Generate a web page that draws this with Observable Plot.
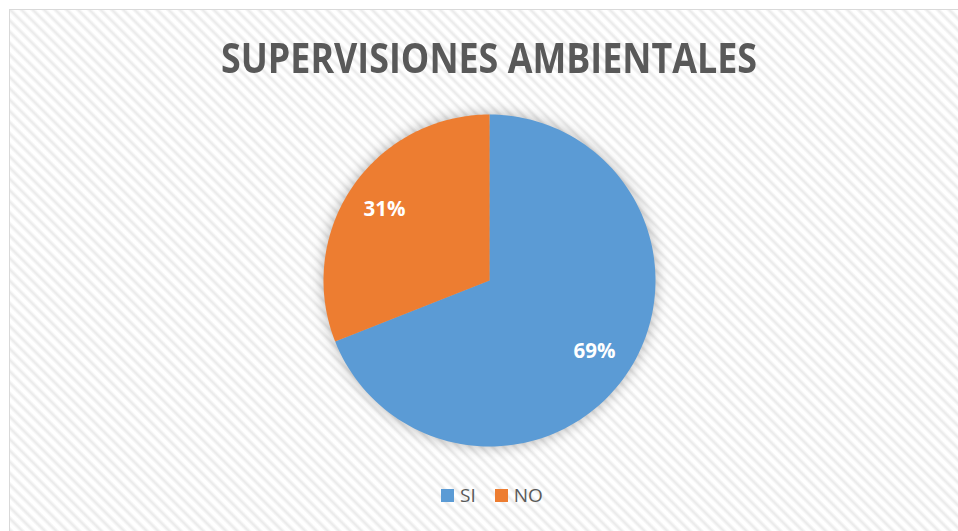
<!DOCTYPE html>
<html><head><meta charset="utf-8">
<script src="https://cdn.jsdelivr.net/npm/d3@7"></script>
<script src="https://cdn.jsdelivr.net/npm/@observablehq/plot@0.6"></script>
<style>
html,body{margin:0;padding:0;background:#fff;}
#chart{position:relative;width:958px;height:531px;overflow:hidden;font-family:"Open Sans",sans-serif;}
#frame{position:absolute;left:9px;top:9px;width:980px;height:560px;border-left:1px solid #d9d9d9;border-top:1px solid #d9d9d9;
  background:repeating-linear-gradient(45deg,#ffffff 0px,#ffffff 1.5px,#ebebeb 4px,#ebebeb 4.5px,#ffffff 7px,#ffffff 8px);}
#title{position:absolute;left:0;top:36px;width:978px;text-align:center;font-weight:700;font-size:42px;line-height:42px;color:#595959;white-space:nowrap;}
#title span{display:inline-block;transform-origin:center;}
#plot{position:absolute;left:0;top:0;}
#legend{position:absolute;top:483px;}
#legend *{font-family:"Open Sans",sans-serif !important;font-size:19px !important;color:#595959 !important;}
#legend > div{margin:0 !important;min-height:0 !important;display:flex !important;align-items:center;}
#legend span{display:inline-flex !important;align-items:center !important;margin-right:19px !important;line-height:24px;}
#legend svg{width:13px !important;height:13px !important;margin-right:6px !important;}
</style>
</head><body>
<div id="chart">
  <div id="frame"></div>
  <div id="title"><span>SUPERVISIONES AMBIENTALES</span></div>
  <div id="plot"></div>
  <div id="legend"></div>
</div>
<script>
const categories = ["SI", "NO"];
const values = [69, 31];
const labels = ["69%", "31%"];
const colors = ["#5B9BD5", "#ED7D31"];

const W = 958, H = 531, cx = 489, cy = 280, R = 166;

const pie = d3.pie().sort(null).value(d => d.value)(categories.map((c, i) => ({cat: c, value: values[i], label: labels[i]})));

// slice outlines from pie angles (clockwise from 12 o'clock)
const pts = [];
for (const s of pie) {
  const n = 120;
  pts.push({cat: s.data.cat, x: 0, y: 0});
  for (let k = 0; k <= n; k++) {
    const t = s.startAngle + (s.endAngle - s.startAngle) * k / n;
    pts.push({cat: s.data.cat, x: Math.sin(t), y: Math.cos(t)});
  }
}
const lab = pie.map(s => {
  const m = (s.startAngle + s.endAngle) / 2, r = 0.765;
  return {cat: s.data.cat, label: s.data.label, x: r * Math.sin(m), y: r * Math.cos(m)};
});

const plot = Plot.plot({
  width: W, height: H,
  margin: 0,
  style: {background: "transparent", overflow: "visible"},
  x: {domain: [-cx / R, (W - cx) / R], axis: null},
  y: {domain: [-(H - cy) / R, cy / R], axis: null},
  color: {domain: categories, range: colors},
  marks: [
    Plot.line(pts, {x: "x", y: "y", z: "cat", fill: "cat", stroke: null, curve: "linear"}),
    Plot.text(lab, {x: "x", y: "y", text: "label", fill: "white", fontSize: 20.5, fontWeight: 700, fontFamily: "Open Sans"})
  ]
});
document.getElementById("plot").appendChild(plot);
const pieG = plot.querySelector('g[aria-label="line"]');
if (pieG) pieG.style.filter = "drop-shadow(0 0 7px rgba(0,0,0,0.3))";

const leg = Plot.legend({color: {domain: categories, range: colors}, legend: "swatches", swatchSize: 13});
document.getElementById("legend").appendChild(leg);

// fit title width to reference
const ts = document.querySelector("#title span");
const tw = ts.getBoundingClientRect().width;
ts.style.transform = `scaleX(${536 / tw})`;
const lg = document.getElementById("legend");
const lw = leg.getBoundingClientRect().width;
lg.style.left = (492 - (lw - 19) / 2) + "px";
</script>
</body></html>
